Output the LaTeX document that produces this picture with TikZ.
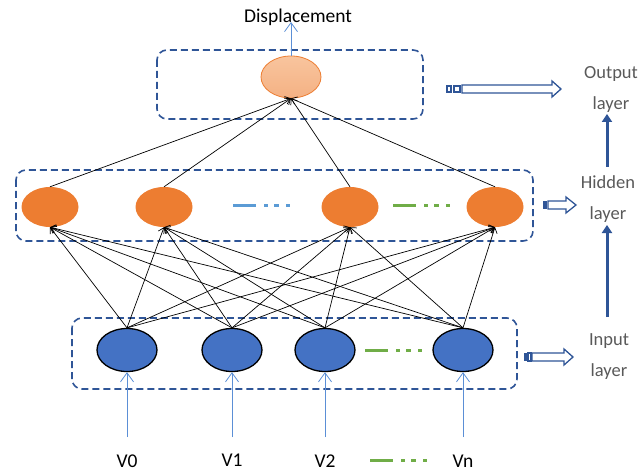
\documentclass[tikz,border=0pt]{standalone}
\usepackage{fontspec}
\setmainfont{Carlito}
\usetikzlibrary{arrows.meta,shapes.geometric}
\definecolor{boxblue}{HTML}{2F5597}
\definecolor{inblue}{HTML}{4472C4}
\definecolor{hidorange}{HTML}{ED7D31}
\definecolor{ltblue}{HTML}{5B8FD6}
\definecolor{dotblue}{HTML}{5B9BD5}
\definecolor{dotgreen}{HTML}{70AD47}
\definecolor{labgray}{HTML}{595959}
\tikzset{
  layerbox/.style={draw=boxblue,line width=1.6pt,dash pattern=on 7pt off 4pt,rounded corners=10pt},
  innode/.style={ellipse,draw=black,line width=1.3pt,fill=inblue,minimum width=60pt,minimum height=43pt,inner sep=0pt},
  hidnode/.style={ellipse,fill=hidorange,minimum width=57pt,minimum height=40pt,inner sep=0pt},
  outnode/.style={ellipse,draw=hidorange,line width=0.8pt,top color=orange!20!hidorange!45!white,bottom color=hidorange!60!white,minimum width=60pt,minimum height=42pt,inner sep=0pt},
  conn/.style={black,line width=0.7pt,-{Straight Barb[length=5pt,width=8pt]}},
  feed/.style={ltblue,line width=0.8pt,-{Straight Barb[length=9pt,width=13pt]}},
  dotsline/.style={line width=3pt,dash pattern=on 23pt off 8pt on 4pt off 6pt on 5pt off 7pt on 4pt off 100pt},
  lab/.style={font=\fontsize{18.5}{31}\selectfont,text=labgray,align=center},
  vlab/.style={font=\fontsize{19.5}{20}\selectfont,text=black,inner sep=1pt},
  upar/.style={boxblue,line width=3pt,-{Triangle[length=8pt,width=10pt]}},
  blockar/.style={draw=boxblue,line width=1.3pt,fill=white,line join=miter},
}
\begin{document}
\begin{tikzpicture}[x=1pt,y=-1pt]
\useasboundingbox (0,0) rectangle (642,473);
% layer boxes
\draw[layerbox] (157,50) rectangle (423,119);
\draw[layerbox] (16,170) rectangle (533,241);
\draw[layerbox] (72,318) rectangle (517,389);
% nodes
\node[outnode] (o) at (291,77) {};
\node[hidnode] (h1) at (50,207) {};
\node[hidnode] (h2) at (164,207) {};
\node[hidnode] (h3) at (350,207) {};
\node[hidnode] (h4) at (495,207) {};
\node[innode] (i1) at (127,350) {};
\node[innode] (i2) at (232,350) {};
\node[innode] (i3) at (325,350) {};
\node[innode] (i4) at (463,350) {};
% dots
\coordinate (bd1) at (233,205); \coordinate (bd2) at (292,205);
\draw[dotsline,dotblue] (bd1) -- (bd2);
\coordinate (gd1) at (393,205); \coordinate (gd2) at (451,205);
\draw[dotsline,dotgreen] (gd1) -- (gd2);
\coordinate (gi1) at (365,350); \coordinate (gi2) at (424,350);
\draw[dotsline,dotgreen] (gi1) -- (gi2);
\coordinate (gv1) at (370,460); \coordinate (gv2) at (428,460);
\draw[dotsline,dotgreen] (gv1) -- (gv2);
% connections
\foreach \i in {i1,i2,i3,i4}{
  \foreach \h in {h1,h2,h3,h4}{
    \draw[conn] (\i.north) -- (\h.south);
  }
}
\foreach \h in {h1,h2,h3,h4}{
  \draw[conn] (\h.north) -- (o.south);
}
% output text
\node[font=\fontsize{19.5}{20}\selectfont] (disp) at (298,17) {Displacement};
\draw[feed] (o.north) -- (291,22);
% input labels
\node[vlab] (v0) at (127,461) {V0};
\node[vlab] (v1) at (232,460) {V1};
\node[vlab] (v2) at (325,461) {V2};
\node[vlab] (vn) at (463,461) {Vn};
\coordinate (f1) at (127,437);
\coordinate (f2) at (232,437);
\coordinate (f3) at (325,437);
\coordinate (f4) at (463,437);
\draw[feed] (f1) -- (i1.south);
\draw[feed] (f2) -- (i2.south);
\draw[feed] (f3) -- (i3.south);
\draw[feed] (f4) -- (i4.south);
% layer labels
\node[lab] (lo) at (611,89) {Output\\layer};
\node[lab] (lh) at (608,199) {Hidden\\layer};
\node[lab] (li) at (609,357) {Input\\layer};
\draw[upar] (607,317) -- (607,225);
\draw[upar] (607,167) -- (607,114);
% block arrows
% output
\draw[blockar] (447,86) rectangle (451,92);
\draw[blockar] (454,86) rectangle (460,92);
\draw[blockar] (462,85) -- (552,85) -- (552,81) -- (561,89) -- (552,97) -- (552,93) -- (462,93) -- cycle;
% hidden
\fill[boxblue] (543,201) rectangle (547,209);
\draw[blockar] (548,201) -- (566,201) -- (566,197) -- (576,205) -- (566,213) -- (566,209) -- (548,209) -- cycle;
% input
\fill[boxblue] (524,353) rectangle (527,361);
\draw[blockar] (528,353) rectangle (531,361);
\draw[blockar] (532,353) -- (564,353) -- (564,349) -- (573,357) -- (564,365) -- (564,361) -- (532,361) -- cycle;
\end{tikzpicture}
\end{document}
